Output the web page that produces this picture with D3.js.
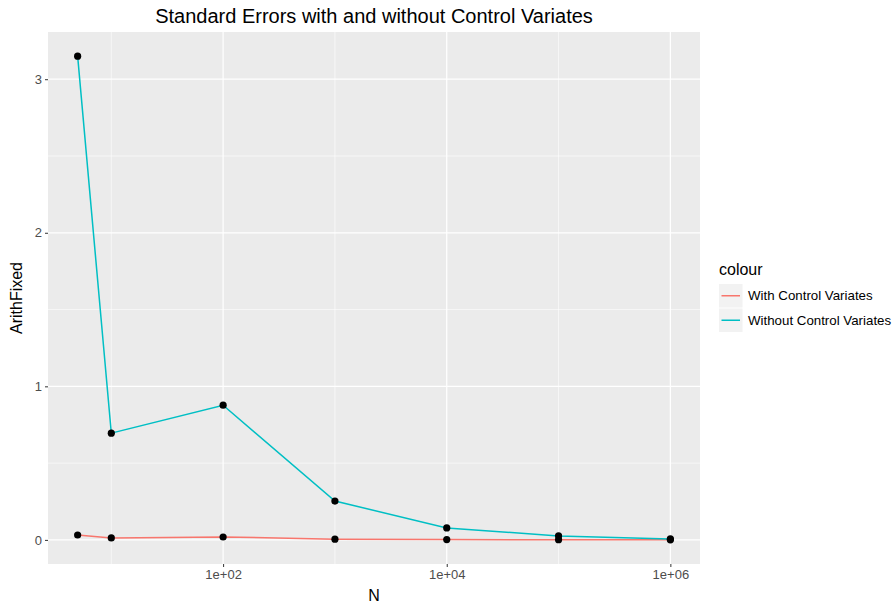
<!DOCTYPE html>
<html>
<head>
<meta charset="utf-8">
<script src="https://cdn.jsdelivr.net/npm/d3@7"></script>
<style>
  body { margin: 0; background: #fff; }
  text { font-family: "Liberation Sans", Arial, sans-serif; }
</style>
</head>
<body>
<div id="chart"></div>
<script>
// Data
const nValues = [5, 10, 100, 1000, 10000, 100000, 1000000];
const withCV = [0.032, 0.013, 0.019, 0.005, 0.002, 0.001, 0.0005];
const withoutCV = [3.15, 0.695, 0.877, 0.253, 0.078, 0.026, 0.006];
const seriesNames = ["With Control Variates", "Without Control Variates"];
const seriesColors = ["#F8766D", "#00BFC4"];
const xMajor = [1e2, 1e4, 1e6];
const xMinor = [1e1, 1e3, 1e5];
const yMajor = [0, 1, 2, 3];
const yMinor = [0.5, 1.5, 2.5];

const W = 895, H = 606;
const panel = { left: 48, top: 32, right: 700, bottom: 564 };

const svg = d3.select("#chart").append("svg")
    .attr("width", W)
    .attr("height", H);

// ggplot-style 5% expansion on both axes
const lx = d3.extent(nValues, d => Math.log10(d));
const padX = (lx[1] - lx[0]) * 0.05;
const x = d3.scaleLog()
    .domain([Math.pow(10, lx[0] - padX), Math.pow(10, lx[1] + padX)])
    .range([panel.left, panel.right]);

const yMax = d3.max(withoutCV), yMin = d3.min(withCV);
const padY = (yMax - yMin) * 0.05;
const y = d3.scaleLinear()
    .domain([yMin - padY, yMax + padY])
    .range([panel.bottom, panel.top]);

// Panel background
svg.append("rect")
    .attr("x", panel.left)
    .attr("y", panel.top)
    .attr("width", panel.right - panel.left)
    .attr("height", panel.bottom - panel.top)
    .attr("fill", "#EBEBEB");

// Grid lines
const grid = svg.append("g");
grid.selectAll(".ymin").data(yMinor).enter().append("line")
    .attr("x1", panel.left).attr("x2", panel.right)
    .attr("y1", d => y(d)).attr("y2", d => y(d))
    .attr("stroke", "#fff").attr("stroke-width", 0.6);
grid.selectAll(".xmin").data(xMinor).enter().append("line")
    .attr("y1", panel.top).attr("y2", panel.bottom)
    .attr("x1", d => x(d)).attr("x2", d => x(d))
    .attr("stroke", "#fff").attr("stroke-width", 0.6);
grid.selectAll(".ymaj").data(yMajor).enter().append("line")
    .attr("x1", panel.left).attr("x2", panel.right)
    .attr("y1", d => y(d)).attr("y2", d => y(d))
    .attr("stroke", "#fff").attr("stroke-width", 1.2);
grid.selectAll(".xmaj").data(xMajor).enter().append("line")
    .attr("y1", panel.top).attr("y2", panel.bottom)
    .attr("x1", d => x(d)).attr("x2", d => x(d))
    .attr("stroke", "#fff").attr("stroke-width", 1.2);

// Axes
const xAxis = svg.append("g")
    .attr("transform", "translate(0," + panel.bottom + ")")
    .call(d3.axisBottom(x).tickValues(xMajor).tickSize(3).tickPadding(3)
        .tickFormat(d => "1e+" + String(Math.round(Math.log10(d))).padStart(2, "0")));
const yAxis = svg.append("g")
    .attr("transform", "translate(" + panel.left + ",0)")
    .call(d3.axisLeft(y).tickValues(yMajor).tickSize(3).tickPadding(3).tickFormat(d3.format("d")));
[xAxis, yAxis].forEach(a => {
    a.select(".domain").remove();
    a.selectAll(".tick line").attr("stroke", "#333").attr("stroke-width", 1);
    a.selectAll(".tick text").attr("fill", "#4D4D4D").style("font-size", "13px");
});

// Lines and points
const rows = [withCV, withoutCV];
const line = d3.line()
    .x((d, i) => x(nValues[i]))
    .y(d => y(d));

rows.forEach((vals, k) => {
    svg.append("path")
        .datum(vals)
        .attr("d", line)
        .attr("fill", "none")
        .attr("stroke", seriesColors[k])
        .attr("stroke-width", 1.5);
});
rows.forEach(vals => {
    svg.selectAll(null).data(vals).enter().append("circle")
        .attr("cx", (d, i) => x(nValues[i]))
        .attr("cy", d => y(d))
        .attr("r", 3.6)
        .attr("fill", "#000");
});

// Title and axis labels
svg.append("text")
    .attr("x", (panel.left + panel.right) / 2)
    .attr("y", 23)
    .attr("text-anchor", "middle")
    .style("font-size", "20px")
    .attr("fill", "#000")
    .text("Standard Errors with and without Control Variates");

svg.append("text")
    .attr("x", (panel.left + panel.right) / 2)
    .attr("y", 601)
    .attr("text-anchor", "middle")
    .style("font-size", "16px")
    .text("N");

svg.append("text")
    .attr("transform", "translate(22," + ((panel.top + panel.bottom) / 2) + ") rotate(-90)")
    .attr("text-anchor", "middle")
    .style("font-size", "16px")
    .text("ArithFixed");

// Legend
const legend = svg.append("g").attr("transform", "translate(719,0)");
legend.append("text")
    .attr("x", 0)
    .attr("y", 275)
    .style("font-size", "16px")
    .text("colour");

const keys = legend.selectAll(".key").data(seriesNames).enter().append("g")
    .attr("transform", (d, i) => "translate(0," + (284 + i * 24.5) + ")");
keys.append("rect")
    .attr("width", 23.5).attr("height", 23.5)
    .attr("fill", "#F2F2F2");
keys.append("line")
    .attr("x1", 2.5).attr("x2", 21)
    .attr("y1", 11.75).attr("y2", 11.75)
    .attr("stroke", (d, i) => seriesColors[i])
    .attr("stroke-width", 1.5);
keys.append("text")
    .attr("x", 29)
    .attr("y", 11.75)
    .attr("dy", "0.35em")
    .style("font-size", "13.3px")
    .text(d => d);
</script>
</body>
</html>
